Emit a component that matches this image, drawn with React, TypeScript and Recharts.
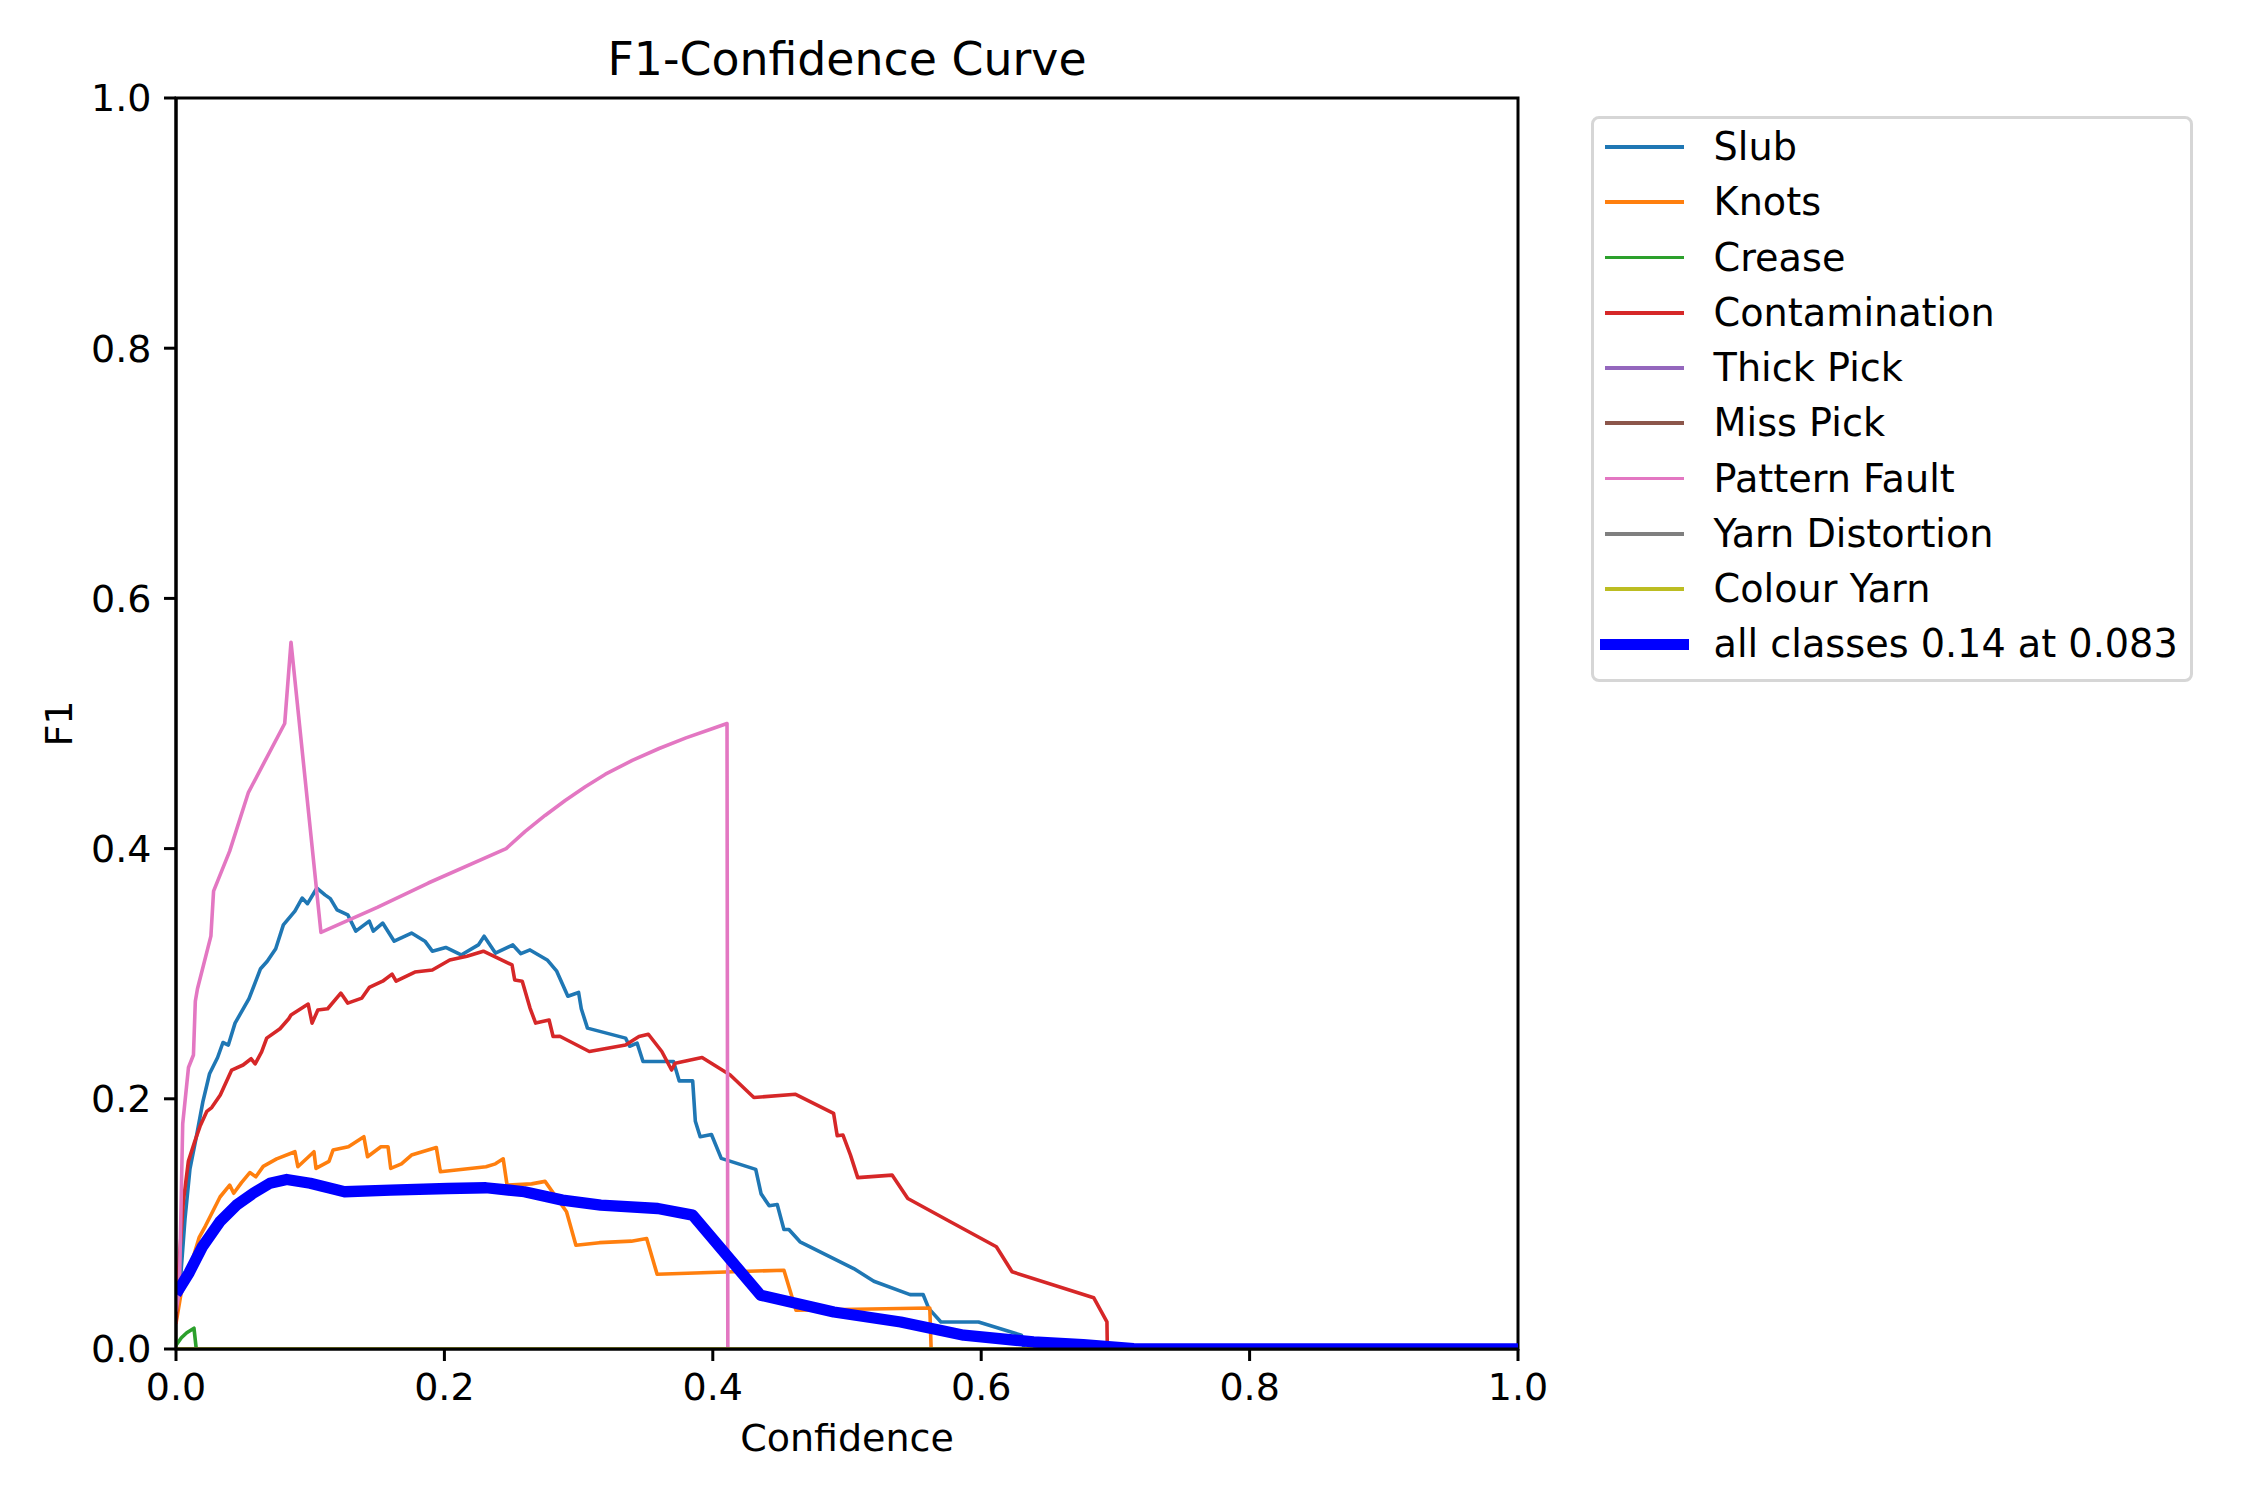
import React from "react";
import { LineChart, Line, XAxis, YAxis, Legend, ReferenceArea, Label } from "recharts";

type Pt = [number, number];

const FONT = "'DejaVu Sans', sans-serif";

// [confidence, F1]
const slub: Pt[] = [
  [0, 0.025], [0.003, 0.051], [0.0067, 0.104], [0.0104, 0.144], [0.0154, 0.171],
  [0.02, 0.1975], [0.025, 0.22], [0.031, 0.233], [0.035, 0.245], [0.039, 0.243],
  [0.044, 0.2605], [0.0544, 0.28], [0.063, 0.304], [0.068, 0.31], [0.0743, 0.32],
  [0.08, 0.339], [0.0886, 0.35], [0.094, 0.3605], [0.098, 0.356], [0.105, 0.3685],
  [0.111, 0.363], [0.115, 0.36], [0.12, 0.351], [0.128, 0.347], [0.134, 0.334],
  [0.144, 0.342], [0.147, 0.334], [0.154, 0.3405], [0.1626, 0.326], [0.1755, 0.3325],
  [0.1855, 0.326], [0.191, 0.318], [0.201, 0.321], [0.2125, 0.315], [0.2253, 0.323],
  [0.2296, 0.33], [0.238, 0.3165], [0.251, 0.323], [0.257, 0.316], [0.2638, 0.319],
  [0.2766, 0.311], [0.2837, 0.302], [0.292, 0.282], [0.3, 0.285], [0.302, 0.272],
  [0.3066, 0.2565], [0.335, 0.2485], [0.338, 0.242], [0.3436, 0.2445], [0.348, 0.2298],
  [0.3707, 0.2298], [0.375, 0.2143], [0.385, 0.2143], [0.387, 0.182], [0.3906, 0.1697],
  [0.399, 0.1715], [0.4063, 0.1524], [0.432, 0.1436], [0.436, 0.124], [0.442, 0.1145],
  [0.448, 0.1155], [0.453, 0.0955], [0.4567, 0.0955], [0.465, 0.0857], [0.505, 0.0643],
  [0.52, 0.0542], [0.547, 0.0435], [0.5567, 0.0436], [0.561, 0.0323], [0.57, 0.0216],
  [0.598, 0.0216], [0.63, 0.011], [0.632, 0], [1, 0],
];

const knots: Pt[] = [
  [0, 0.0205], [0.0037, 0.044], [0.0098, 0.0625], [0.0172, 0.089], [0.022, 0.0985],
  [0.0328, 0.1215], [0.04, 0.131], [0.043, 0.1245], [0.0488, 0.133], [0.055, 0.141],
  [0.0595, 0.1377], [0.065, 0.146], [0.075, 0.152], [0.0886, 0.1577], [0.0908, 0.1457],
  [0.1028, 0.1577], [0.1043, 0.1444], [0.114, 0.15], [0.117, 0.159], [0.1285, 0.1617],
  [0.14, 0.1697], [0.1427, 0.1537], [0.1527, 0.1617], [0.158, 0.1617], [0.16, 0.1444],
  [0.168, 0.148], [0.1755, 0.155], [0.194, 0.161], [0.197, 0.1417], [0.231, 0.1457],
  [0.238, 0.148], [0.2438, 0.152], [0.2467, 0.131], [0.265, 0.132], [0.275, 0.134],
  [0.291, 0.1097], [0.298, 0.083], [0.3155, 0.085], [0.3393, 0.0862], [0.3507, 0.0883],
  [0.3585, 0.0598], [0.453, 0.063], [0.462, 0.031], [0.5617, 0.0328], [0.5627, 0], [1, 0],
];

const crease: Pt[] = [
  [0, 0.003], [0.004, 0.009], [0.008, 0.013], [0.0134, 0.0166], [0.0151, 0], [1, 0],
];

const contamination: Pt[] = [
  [0, 0.02], [0.002, 0.064], [0.0055, 0.118], [0.0092, 0.15], [0.014, 0.166],
  [0.0179, 0.178], [0.023, 0.19], [0.0266, 0.193], [0.033, 0.203], [0.0415, 0.223],
  [0.05, 0.227], [0.056, 0.232], [0.059, 0.228], [0.0638, 0.2375], [0.0676, 0.2485],
  [0.0775, 0.256], [0.084, 0.264], [0.0857, 0.267], [0.0985, 0.2757], [0.1014, 0.2605],
  [0.1057, 0.271], [0.113, 0.272], [0.1228, 0.2845], [0.128, 0.2765], [0.1385, 0.2805],
  [0.144, 0.289], [0.154, 0.294], [0.161, 0.2997], [0.164, 0.294], [0.178, 0.3013],
  [0.191, 0.303], [0.204, 0.311], [0.2168, 0.314], [0.229, 0.318], [0.2504, 0.307],
  [0.2524, 0.295], [0.258, 0.294], [0.2638, 0.2725], [0.268, 0.2605], [0.278, 0.263],
  [0.281, 0.2498], [0.286, 0.25], [0.308, 0.2378], [0.335, 0.243], [0.345, 0.2498],
  [0.352, 0.2516], [0.362, 0.2378], [0.3693, 0.223], [0.372, 0.2285], [0.392, 0.233],
  [0.413, 0.219], [0.4306, 0.201], [0.4617, 0.2036], [0.49, 0.1884], [0.4927, 0.1705],
  [0.497, 0.171], [0.5026, 0.155], [0.508, 0.137], [0.5336, 0.139], [0.5453, 0.1203],
  [0.577, 0.1017], [0.6113, 0.0817], [0.623, 0.0617], [0.6838, 0.041], [0.6937, 0.0216],
  [0.694, 0], [1, 0],
];

const patternFault: Pt[] = [
  [0, 0.03], [0.0025, 0.047], [0.005, 0.18], [0.0093, 0.225], [0.013, 0.235],
  [0.0144, 0.278], [0.016, 0.288], [0.026, 0.33], [0.028, 0.366], [0.04, 0.398],
  [0.054, 0.445], [0.081, 0.5], [0.0857, 0.565], [0.108, 0.333], [0.15, 0.353],
  [0.188, 0.3725], [0.246, 0.4], [0.26, 0.4135], [0.275, 0.4265], [0.29, 0.4385],
  [0.305, 0.4495], [0.32, 0.4595], [0.34, 0.4705], [0.36, 0.48], [0.38, 0.4885],
  [0.4, 0.496], [0.4106, 0.5], [0.4112, 0], [1, 0],
];

const zeroLine: Pt[] = [[0, 0], [1, 0]];

const allClasses: Pt[] = [
  [0, 0.044], [0.0098, 0.061], [0.0198, 0.082], [0.0328, 0.102], [0.045, 0.115],
  [0.0575, 0.1245], [0.07, 0.1325], [0.0825, 0.1355], [0.1, 0.1325], [0.1256, 0.1257],
  [0.16, 0.127], [0.2025, 0.1283], [0.231, 0.1289], [0.2596, 0.1257], [0.288, 0.119],
  [0.3165, 0.115], [0.359, 0.1123], [0.385, 0.107], [0.4356, 0.043], [0.4902, 0.0296],
  [0.54, 0.0216], [0.587, 0.011], [0.639, 0.0056], [0.676, 0.0035], [0.7136, 0.0003],
  [0.72, 0], [1, 0],
];

const ticks = [0, 0.2, 0.4, 0.6, 0.8, 1.0];

const series = [
  { name: "Slub", color: "#1f77b4", points: slub, width: 3.6 },
  { name: "Knots", color: "#ff7f0e", points: knots, width: 3.6 },
  { name: "Crease", color: "#2ca02c", points: crease, width: 3.6 },
  { name: "Contamination", color: "#d62728", points: contamination, width: 3.6 },
  { name: "Thick Pick", color: "#9467bd", points: zeroLine, width: 3.6 },
  { name: "Miss Pick", color: "#8c564b", points: zeroLine, width: 3.6 },
  { name: "Pattern Fault", color: "#e377c2", points: patternFault, width: 3.6 },
  { name: "Yarn Distortion", color: "#7f7f7f", points: zeroLine, width: 3.6 },
  { name: "Colour Yarn", color: "#bcbd22", points: zeroLine, width: 3.6 },
  { name: "all classes 0.14 at 0.083", color: "#0000ff", points: allClasses, width: 11.3 },
];

const toData = (pts: Pt[]) => pts.map(([conf, f1]) => ({ conf, f1 }));
const fmt = (v: number) => v.toFixed(1);

const tickStyle = { fill: "#000", fontSize: 38, fontFamily: FONT };

const YLabel = (props: any) => {
  const vb = props.viewBox || { x: 0, y: 98, width: 176, height: 1251 };
  const cx = vb.x + 58.5;
  const cy = vb.y + vb.height / 2;
  return (
    <text
      x={cx}
      y={cy}
      dy={13.7}
      transform={`rotate(-90 ${cx} ${cy})`}
      textAnchor="middle"
      fontSize={38}
      fontFamily={FONT}
      fill="#000"
    >
      F1
    </text>
  );
};

const LegendBox = () => (
  <div
    style={{
      boxSizing: "border-box",
      width: 602,
      height: 566,
      border: "3px solid #d6d6d6",
      borderRadius: 8,
      background: "#fff",
      paddingTop: 0.4,
      fontFamily: FONT,
      fontSize: 38.2,
      color: "#000",
    }}
  >
    {series.map((s) => {
      const len = s.width > 5 ? 89 : 79;
      return (
        <div key={s.name} style={{ display: "flex", alignItems: "center", height: 55.25 }}>
          <div style={{ position: "relative", width: 119.6, height: 55.25, flex: "none" }}>
            <div
              style={{
                position: "absolute",
                left: 50.5 - len / 2,
                top: (55.25 - s.width) / 2,
                width: len,
                height: s.width,
                background: s.color,
              }}
            />
          </div>
          <span style={{ whiteSpace: "nowrap", lineHeight: "normal" }}>{s.name}</span>
        </div>
      );
    })}
  </div>
);

const App: React.FC = () => {
  return (
    <div style={{ position: "absolute", left: 0, top: 0, width: 2250, height: 1500, background: "#fff" }}>
      <div
        style={{
          position: "absolute",
          left: 0,
          top: 37.3,
          width: 1694,
          textAlign: "center",
          fontFamily: FONT,
          fontSize: 45.8,
          lineHeight: "45.8px",
          color: "#000",
          whiteSpace: "nowrap",
        }}
      >
        F1-Confidence Curve
      </div>
      <LineChart width={2250} height={1500} margin={{ top: 98, right: 732, bottom: 49, left: 0 }}>
        <XAxis
          type="number"
          dataKey="conf"
          domain={[0, 1]}
          ticks={ticks}
          tickFormatter={fmt}
          height={102}
          tickSize={12}
          tickMargin={12.5}
          axisLine={{ stroke: "#000", strokeWidth: 3 }}
          tickLine={{ stroke: "#000", strokeWidth: 3 }}
          tick={tickStyle}
          allowDataOverflow
        >
          <Label
            value="Confidence"
            position="insideBottom"
            offset={0}
            style={{ fontSize: 38, fill: "#000", fontFamily: FONT }}
          />
        </XAxis>
        <YAxis
          type="number"
          dataKey="f1"
          domain={[0, 1]}
          ticks={ticks}
          tickFormatter={fmt}
          width={176}
          tickSize={12}
          tickMargin={12.5}
          axisLine={{ stroke: "#000", strokeWidth: 3 }}
          tickLine={{ stroke: "#000", strokeWidth: 3 }}
          tick={tickStyle}
          allowDataOverflow
        >
          <Label content={YLabel} />
        </YAxis>
        {series.map((s) => (
          <Line
            key={s.name}
            name={s.name}
            data={toData(s.points)}
            dataKey="f1"
            type="linear"
            stroke={s.color}
            strokeWidth={s.width}
            strokeLinejoin="round"
            dot={false}
            activeDot={false}
            isAnimationActive={false}
          />
        ))}
        <ReferenceArea x1={0} x2={1} y1={0} y2={1} fill="none" stroke="#000" strokeWidth={3} fillOpacity={0} />
        <Legend
          layout="vertical"
          align="center"
          verticalAlign="middle"
          wrapperStyle={{ left: 1591, top: 116, width: 602, height: 566 }}
          content={() => <LegendBox />}
        />
      </LineChart>
    </div>
  );
};

export default App;
